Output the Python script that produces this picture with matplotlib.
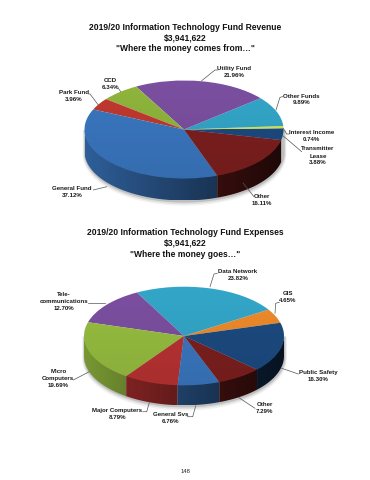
import numpy as np
import matplotlib
matplotlib.use('Agg')
import matplotlib.pyplot as plt
from matplotlib.colors import to_rgb
from matplotlib.patches import Polygon, Ellipse

plt.rcParams['font.family'] = ['Liberation Sans', 'DejaVu Sans']

W, H = 370, 480

# revenue pie, counter clockwise from the start angle
rev_names = ['Transmitter', 'Interest Income', 'Other Funds', 'Utility Fund', 'CCD', 'Park Fund', 'General Fund', 'Other']
rev_values = [3.88, 0.74, 9.89, 21.96, 6.34, 3.96, 37.12, 16.11]
rev_colors = ['#1c4a80', '#d8e84a', '#33a6c8', '#7b4fa0', '#8fb53c', '#c0392f', '#3a76bf', '#7c1f1f']
rev_title = ['2019/20 Information Technology Fund Revenue', '$3,941,622', '"Where the money comes from…"']

# expenses pie
exp_names = ['GIS', 'Data Network', 'Telecommunications', 'Micro Computers', 'Major Computers', 'General Svs', 'Other', 'Public Safety']
exp_values = [4.65, 23.82, 12.70, 19.69, 8.79, 6.76, 7.29, 16.30]
exp_colors = ['#ee8a2a', '#33a6c8', '#7b4fa0', '#96bd40', '#b83232', '#3a76bf', '#7c1f1f', '#1c4a80']
exp_title = ['2019/20 Information Technology Fund Expenses', '$3,941,622', '"Where the money goes…"']

fig = plt.figure(figsize=(W / 100, H / 100), dpi=100)
bg = fig.add_axes([0, 0, 1, 1])
bg.axis('off')


def draw_pie(values, colors, start, cx, cy, rx, ry, depth):
    # axes covers exactly the ellipse of the top face, pie is stretched to fit
    ax = fig.add_axes([(cx - rx) / W, 1 - (cy + ry) / H, 2 * rx / W, 2 * ry / H])
    ax.patch.set_alpha(0)
    ax.pie(values, colors=colors, startangle=start, counterclock=True, radius=1,
           wedgeprops=dict(linewidth=0))
    ax.set_aspect('auto')
    ax.set_zorder(3)

    # faint top to bottom darkening of the top face
    grad = np.zeros((64, 2, 4))
    grad[..., 3] = np.linspace(0, 0.08, 64)[:, None]
    im = ax.imshow(grad, extent=(-1, 1, -1, 1), aspect='auto', origin='upper', zorder=5)
    im.set_clip_path(Ellipse((0, 0), 2, 2, transform=ax.transData))
    ax.set_xlim(-1, 1)
    ax.set_ylim(-1, 1)

    # soft shadow under the wall
    t = np.linspace(np.pi, 2 * np.pi, 200)
    for grow, a in zip([2.4, 1.6, 0.8], [0.05, 0.08, 0.14]):
        xs = cx + (rx + grow) * np.cos(t)
        ys = cy + depth + grow - (ry + grow) * np.sin(t)
        bg.fill_between(xs, cy, ys, color='black', alpha=a, lw=0, zorder=1)

    # side wall, one clipped gradient per slice, dark toward the lower right
    edges = start + np.cumsum([0] + list(values)) * 3.6
    shade = np.linspace(0.8, 0.25, 256)
    for a0, a1, col in zip(edges[:-1], edges[1:], colors):
        for k in [-360, 0]:
            lo = max(a0 + k, 180)
            hi = min(a1 + k, 360)
            if hi <= lo:
                continue
            tt = np.radians(np.linspace(lo, hi, 60))
            xs = cx + rx * np.cos(tt)
            ys = cy - ry * np.sin(tt)
            pts = np.r_[np.c_[xs, ys - 1], np.c_[xs[::-1], ys[::-1] + depth]]
            img = np.array(to_rgb(col))[None, None, :] * shade[None, :, None]
            im = bg.imshow(img, extent=(cx - rx, cx + rx, cy + ry + depth, cy - ry),
                           aspect='auto', zorder=2)
            im.set_clip_path(Polygon(pts, closed=True, transform=bg.transData))


def label(x, y, text):
    bg.text(x, y, text, fontsize=4.4, fontweight='bold', ha='center', va='center',
            linespacing=1.5, color='#1a1a1a', zorder=5)


def leader(xs, ys):
    bg.plot(xs, ys, color='#555555', lw=0.5, zorder=5)


def title(lines, y0, step):
    for i, line in enumerate(lines):
        bg.text(185, y0 + i * step, line, fontsize=6.15, fontweight='bold',
                ha='center', va='center', color='#111111', zorder=5)


# top chart
title(rev_title, 27.7, 10.3)
draw_pie(rev_values, rev_colors, -12.5, 184, 129.5, 99.5, 49, 22)
label(234, 72.3, 'Utility Fund\n21.96%')
leader([201.7, 215, 217.7], [80.7, 70, 70])
label(301.7, 99.5, 'Other Funds\n9.89%')
leader([276, 280, 282.7], [110, 97.3, 96.7])
label(74, 96.3, 'Park Fund\n3.96%')
leader([98.3, 90, 88.7], [105, 94, 94])
label(110.7, 84.3, 'CCD\n6.34%')
leader([118.3, 121], [88.3, 92])
label(311.7, 136, 'Interest Income\n0.74%')
leader([283.3, 286.7, 289.3], [128.3, 134, 134])
label(318, 156, 'Transmitter\nLease\n3.88%')
leader([283.3, 301.7], [136, 151.7])
label(71.7, 191.7, 'General Fund\n37.12%')
leader([93.3, 106.7], [190, 186.7])
label(262, 199.7, 'Other\n16.11%')
leader([243, 254], [183, 196.7])

# bottom chart
title(exp_title, 232.7, 10.7)
draw_pie(exp_values, exp_colors, 15.6, 184, 336, 100, 49.3, 20)
label(237.7, 274.8, 'Data Network\n23.82%')
leader([210, 214, 217.3], [286.7, 274, 273.3])
label(288, 297, 'GIS\n4.65%')
leader([275, 275.7, 279.3], [313.3, 303.3, 302.3])
label(64, 301.3, 'Tele-\ncommunications\n12.70%')
leader([88.3, 105], [303.3, 303.3])
label(58.3, 378.7, 'Micro\nComputers\n19.69%')
leader([73.3, 89.3], [380, 371.7])
label(318.3, 375.7, 'Public Safety\n16.30%')
leader([281.7, 298.3], [368.3, 374])
label(264.7, 408, 'Other\n7.29%')
leader([238.3, 255], [397.3, 408.3])
label(117.3, 413.7, 'Major Computers\n8.79%')
leader([142.7, 146.7, 149.3], [411.7, 411.7, 402.7])
label(170.7, 418, 'General Svs\n6.76%')
leader([187.3, 192.7, 195.7], [416.7, 416.7, 406])

bg.text(185, 471.7, '148', fontsize=4.2, ha='center', va='center', color='#222222')

bg.set_xlim(0, W)
bg.set_ylim(H, 0)
fig.savefig('out.png', dpi=100)
plt.close()
